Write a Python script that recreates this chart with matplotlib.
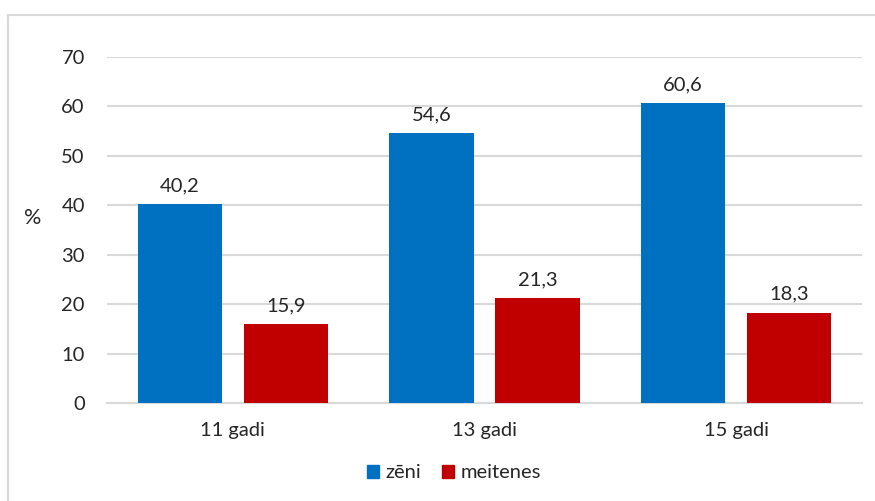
import matplotlib
matplotlib.use("Agg")
import matplotlib.pyplot as plt
from matplotlib.patches import Patch
from matplotlib.lines import Line2D
import numpy as np

plt.rcParams['font.family'] = ['Lato', 'DejaVu Sans']

categories = ["11 gadi", "13 gadi", "15 gadi"]
boys = [40.2, 54.6, 60.6]
girls = [15.9, 21.3, 18.3]
series_names = ["zēni", "meitenes"]
yticks = [0, 10, 20, 30, 40, 50, 60, 70]

blue = "#0070C0"
red = "#C00000"
grid_col = "#D9D9D9"
text_col = "#262626"
fs = 14.5

fig = plt.figure(figsize=(8.75, 5.01), dpi=100)
ax = fig.add_axes([107 / 875, 1 - 403 / 501, (862 - 107) / 875, (403 - 57) / 501])

x = np.arange(len(categories))
w = 0.334
gap = 0.087
off = (w + gap) / 2
b1 = ax.bar(x - off, boys, w, color=blue, zorder=3)
b2 = ax.bar(x + off, girls, w, color=red, zorder=3)

for bars, vals in ((b1, boys), (b2, girls)):
    for rect, v in zip(bars, vals):
        ax.annotate(f"{v:.1f}".replace(".", ","),
                    (rect.get_x() + rect.get_width() / 2, v),
                    xytext=(0, 7), textcoords="offset points",
                    ha="center", va="bottom", fontsize=fs, color=text_col)

ax.set_xlim(-0.5, len(categories) - 0.5)
ax.set_ylim(0, 70)
ax.set_yticks(yticks)
ax.set_yticklabels([str(t) for t in yticks])
ax.set_xticks(x)
ax.set_xticklabels(categories)
ax.tick_params(axis="y", length=0, pad=16, labelsize=fs, labelcolor=text_col)
ax.tick_params(axis="x", length=0, pad=14, labelsize=fs, labelcolor=text_col)
ax.yaxis.grid(True, color=grid_col, linewidth=1.5, zorder=0)
for s in ("top", "right", "left"):
    ax.spines[s].set_visible(False)
ax.spines["bottom"].set_color(grid_col)
ax.spines["bottom"].set_linewidth(1.5)

fig.text(33 / 875, 1 - 218 / 501, "%", fontsize=fs + 1, color=text_col,
         ha="center", va="center")

handles = [Patch(color=blue), Patch(color=red)]
fig.legend(handles, series_names, loc="center", bbox_to_anchor=(454 / 875, 1 - 473 / 501),
           ncol=2, frameon=False, fontsize=fs, handlelength=0.6, handleheight=0.6,
           handletextpad=0.35, columnspacing=1.0, labelcolor=text_col)

# outer frame on the top and left edges
fig.add_artist(Line2D([8 / 875, 8 / 875], [0, 1 - 15 / 501], transform=fig.transFigure,
                      color=grid_col, linewidth=1.5))
fig.add_artist(Line2D([8 / 875, 1], [1 - 15 / 501, 1 - 15 / 501], transform=fig.transFigure,
                      color=grid_col, linewidth=1.5))

fig.savefig("out.png", dpi=100, facecolor="white")
